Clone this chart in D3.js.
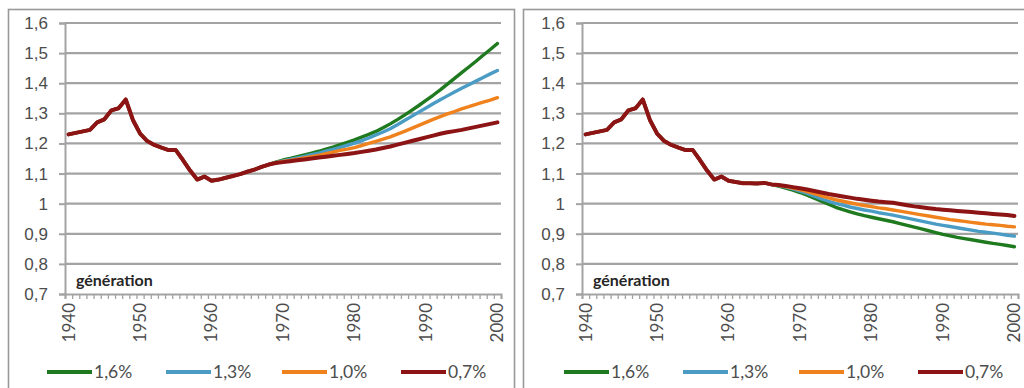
<!DOCTYPE html>
<html>
<head>
<meta charset="utf-8">
<script src="https://cdn.jsdelivr.net/npm/d3@7"></script>
<style>
  html, body { margin: 0; padding: 0; background: #fff; }
  svg { display: block; font-family: Lato, "Open Sans", sans-serif; }
</style>
</head>
<body>
<svg id="chart" width="1024" height="388"></svg>
<script>
// Generations 1940–2000
const years = d3.range(1940, 2001);
const yTicks = [0.7, 0.8, 0.9, 1.0, 1.1, 1.2, 1.3, 1.4, 1.5, 1.6];
const xLabels = [1940, 1950, 1960, 1970, 1980, 1990, 2000];
const seriesNames = ["1,6%", "1,3%", "1,0%", "0,7%"];
const seriesColors = ["#1f7a1f", "#4a9cc4", "#f0821e", "#8c1414"];

// Observed part shared by both panels, 1940–1960
const observed = [1.230, 1.235, 1.240, 1.245, 1.270, 1.280, 1.310, 1.317, 1.346, 1.278,
                  1.233, 1.208, 1.195, 1.186, 1.178, 1.178, 1.145, 1.110, 1.080, 1.090, 1.076];

// Left panel: common path 1961–1968, then scenarios 1969–2000
const leftCommon = [1.080, 1.086, 1.092, 1.098, 1.106, 1.113, 1.122, 1.130];
const leftGreen  = [1.138, 1.145, 1.150, 1.156, 1.162, 1.168, 1.174, 1.181, 1.188, 1.196, 1.204,
                    1.212, 1.221, 1.230, 1.240, 1.252, 1.265, 1.279, 1.294, 1.310, 1.326,
                    1.343, 1.360, 1.378, 1.397, 1.416, 1.435, 1.454, 1.473, 1.493, 1.512, 1.532];
const leftBlue   = [1.137, 1.142, 1.147, 1.152, 1.157, 1.163, 1.168, 1.174, 1.180, 1.187, 1.194,
                    1.201, 1.209, 1.218, 1.228, 1.238, 1.249, 1.262, 1.276, 1.290, 1.304,
                    1.318, 1.332, 1.345, 1.358, 1.371, 1.383, 1.395, 1.407, 1.419, 1.431, 1.442];
const leftOrange = [1.136, 1.140, 1.144, 1.148, 1.152, 1.156, 1.160, 1.166, 1.171, 1.177, 1.181,
                    1.186, 1.193, 1.200, 1.207, 1.214, 1.222, 1.231, 1.240, 1.250, 1.260,
                    1.270, 1.280, 1.289, 1.298, 1.306, 1.315, 1.322, 1.330, 1.337, 1.344, 1.352];
const leftRed    = [1.135, 1.138, 1.141, 1.144, 1.147, 1.150, 1.153, 1.156, 1.159, 1.162, 1.165,
                    1.168, 1.172, 1.176, 1.180, 1.185, 1.190, 1.196, 1.202, 1.208, 1.214,
                    1.220, 1.226, 1.232, 1.237, 1.241, 1.245, 1.250, 1.255, 1.260, 1.265, 1.270];

// Right panel: common path 1961–1966, then scenarios 1967–2000
const rightCommon = [1.072, 1.068, 1.068, 1.067, 1.069, 1.064];
const rightGreen  = [1.058, 1.052, 1.045, 1.037, 1.028, 1.018, 1.008, 0.998, 0.988, 0.980, 0.973,
                     0.966, 0.960, 0.955, 0.950, 0.945, 0.940, 0.934, 0.928, 0.922, 0.916,
                     0.910, 0.904, 0.898, 0.893, 0.888, 0.884, 0.880, 0.876, 0.872, 0.868,
                     0.865, 0.861, 0.857];
const rightBlue   = [1.060, 1.055, 1.049, 1.042, 1.034, 1.025, 1.016, 1.008, 1.001, 0.995, 0.989,
                     0.984, 0.979, 0.975, 0.970, 0.966, 0.962, 0.957, 0.952, 0.947, 0.942,
                     0.937, 0.932, 0.928, 0.924, 0.920, 0.916, 0.912, 0.908, 0.905, 0.902,
                     0.899, 0.895, 0.892];
const rightOrange = [1.061, 1.057, 1.052, 1.047, 1.040, 1.033, 1.026, 1.019, 1.013, 1.008, 1.003,
                     0.998, 0.994, 0.990, 0.986, 0.983, 0.979, 0.975, 0.971, 0.967, 0.963,
                     0.959, 0.955, 0.951, 0.947, 0.944, 0.941, 0.938, 0.935, 0.932, 0.930,
                     0.928, 0.925, 0.923];
const rightRed    = [1.062, 1.059, 1.055, 1.051, 1.047, 1.042, 1.037, 1.032, 1.028, 1.024, 1.020,
                     1.016, 1.013, 1.010, 1.007, 1.005, 1.003, 0.999, 0.995, 0.991, 0.988,
                     0.985, 0.982, 0.980, 0.978, 0.976, 0.974, 0.972, 0.970, 0.968, 0.966,
                     0.964, 0.962, 0.959];

const leftSeries = [leftGreen, leftBlue, leftOrange, leftRed]
  .map(s => observed.concat(leftCommon, s));
const rightSeries = [rightGreen, rightBlue, rightOrange, rightRed]
  .map(s => observed.concat(rightCommon, s));

const svg = d3.select("#chart");
const textColor = "#4d4d4d";
const gridColor = "#a3a3a3";
const fmt = v => d3.format(".1f")(v).replace(".0", "").replace(".", ",");

const plotTop = 23, plotBottom = 294, plotWidth = 436;

function drawPanel(frameX, frameW, plotX, series) {
  const g = svg.append("g");

  // Chart frame
  g.append("rect")
    .attr("x", frameX + 0.5).attr("y", 9.5)
    .attr("width", frameW).attr("height", 400)
    .attr("fill", "#fff").attr("stroke", "#999").attr("stroke-width", 1.6);

  const x = d3.scalePoint().domain(years).range([plotX, plotX + plotWidth]).padding(0.5);
  const xEdges = d3.scaleLinear().domain([1939.5, 2000.5]).range([plotX, plotX + plotWidth]);
  const y = d3.scaleLinear().domain([0.7, 1.6]).range([plotBottom, plotTop]);

  // Value axis with its labels
  const yAxis = g.append("g")
    .attr("transform", `translate(${plotX},0)`)
    .call(d3.axisLeft(y).tickValues(yTicks).tickFormat(fmt).tickSize(6).tickPadding(11));
  yAxis.select(".domain").attr("stroke", gridColor).attr("stroke-width", 2);
  yAxis.selectAll(".tick line").attr("stroke", gridColor).attr("stroke-width", 2);
  yAxis.selectAll(".tick text")
    .attr("fill", textColor).attr("font-size", 17);

  // Horizontal gridlines
  g.append("g").selectAll("line")
    .data(yTicks.filter(v => v > 0.7))
    .join("line")
    .attr("x1", plotX).attr("x2", plotX + plotWidth)
    .attr("y1", d => y(d)).attr("y2", d => y(d))
    .attr("stroke", gridColor).attr("stroke-width", 2.2);

  // Category axis: a tick between every generation
  const xAxis = g.append("g")
    .attr("transform", `translate(0,${plotBottom})`)
    .call(d3.axisBottom(xEdges).tickValues(d3.range(1939.5, 2001, 1)).tickSize(5).tickFormat(""));
  xAxis.select(".domain").attr("stroke", gridColor).attr("stroke-width", 2);
  xAxis.selectAll(".tick line").attr("stroke", gridColor).attr("stroke-width", 1.3);

  g.append("g").selectAll("text")
    .data(xLabels)
    .join("text")
    .attr("transform", d => `translate(${x(d)},${plotBottom + 9}) rotate(-90)`)
    .attr("text-anchor", "end")
    .attr("dy", "0.35em")
    .attr("fill", textColor)
    .attr("font-size", 17)
    .text(d => d);

  // Axis caption inside the plot
  g.append("text")
    .attr("x", plotX + 11).attr("y", 286)
    .attr("font-size", 16).attr("font-weight", "bold")
    .attr("fill", "#262626")
    .text("génération");

  // Scenario lines, lowest rate drawn last
  const line = d3.line().x((d, i) => x(years[i])).y(d => y(d));
  g.append("g").selectAll("path")
    .data(series)
    .join("path")
    .attr("d", line)
    .attr("fill", "none")
    .attr("stroke", (d, i) => seriesColors[i])
    .attr("stroke-width", (d, i) => i === 3 ? 4 : 3.4)
    .attr("stroke-linejoin", "round")
    .attr("stroke-linecap", "round");

  // Legend
  const legendX = [plotX - 18, plotX + 101, plotX + 217, plotX + 336];
  const lg = g.append("g").selectAll("g")
    .data(seriesNames)
    .join("g")
    .attr("transform", (d, i) => `translate(${legendX[i]},372)`);
  lg.append("line")
    .attr("x1", 0).attr("x2", 45).attr("y1", 0).attr("y2", 0)
    .attr("stroke", (d, i) => seriesColors[i]).attr("stroke-width", 4);
  lg.append("text")
    .attr("x", 47).attr("dy", "0.35em")
    .attr("font-size", 17.5).attr("fill", textColor)
    .text(d => d);
}

drawPanel(8, 506, 65, leftSeries);
drawPanel(523, 520, 582, rightSeries);
</script>
</body>
</html>
